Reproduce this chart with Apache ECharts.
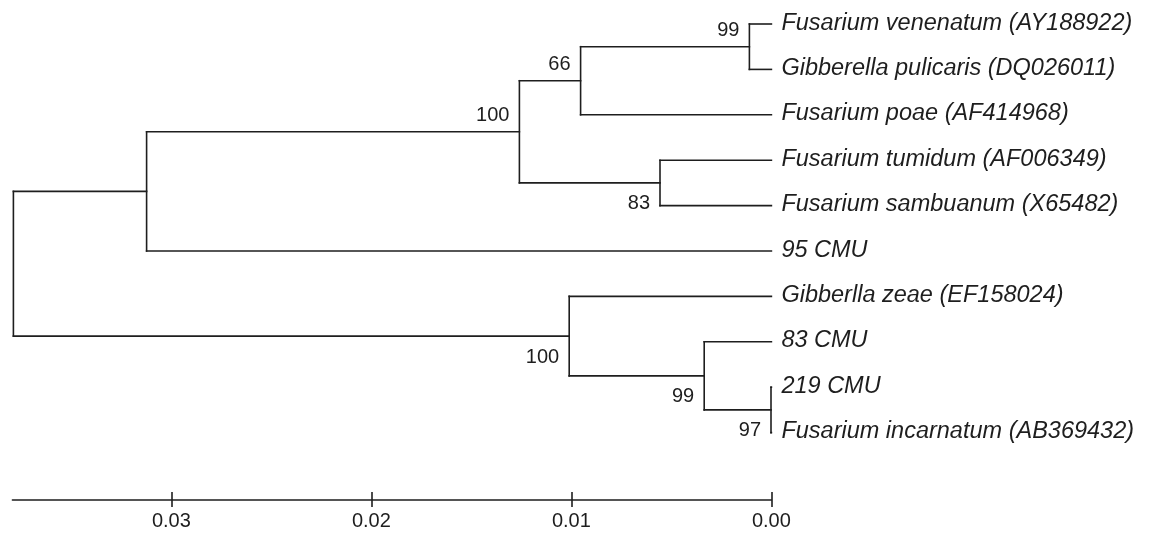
<!DOCTYPE html>
<html><head><meta charset="utf-8">
<script src="https://cdn.jsdelivr.net/npm/echarts@6/dist/echarts.min.js"></script>
<style>html,body{margin:0;padding:0;background:#fff}#c{width:1154px;height:534px}</style>
</head><body><div id="c"></div>
<script>
// Leaves, top to bottom
const leafNames = [
  'Fusarium venenatum (AY188922)',
  'Gibberella pulicaris (DQ026011)',
  'Fusarium poae (AF414968)',
  'Fusarium tumidum (AF006349)',
  'Fusarium sambuanum (X65482)',
  '95 CMU',
  'Gibberlla zeae (EF158024)',
  '83 CMU',
  '219 CMU',
  'Fusarium incarnatum (AB369432)'
];
// Internal nodes (ids 10..18): children ids (0-9 = leaves), node height (distance from tips), bootstrap
const nodeChildren = [[0,1],[10,2],[3,4],[11,12],[13,5],[8,9],[7,15],[6,16],[14,17]];
const nodeHeights  = [0.00110, 0.00954, 0.00557, 0.01260, 0.03124, 0.00002, 0.00336, 0.01011, 0.03790];
const nodeSupport  = ['99','66','83','100','','97','99','100',''];
const supportSide  = ['above','above','below','above','','below','below','below',''];
// Scale bar
const scaleTicks = [0, 0.01, 0.02, 0.03];
const scaleTickLabels = ['0.00', '0.01', '0.02', '0.03'];

const nLeaf = leafNames.length;
const posX = [], posY = [];
for (let i = 0; i < nLeaf; i++) { posX.push(0); posY.push(i); }
const segments = [];
const supportData = [];
nodeChildren.forEach((ch, k) => {
  const id = nLeaf + k;
  const ys = ch.map(c => posY[c]);
  const yMin = Math.min(...ys), yMax = Math.max(...ys);
  const h = nodeHeights[k];
  posX[id] = h; posY[id] = (yMin + yMax) / 2;
  segments.push([h, yMin, h, yMax]);
  ch.forEach(c => segments.push([h, posY[c], posX[c], posY[c]]));
  if (nodeSupport[k]) supportData.push([h, posY[id], nodeSupport[k], supportSide[k]]);
});
const leafData = leafNames.map((n, i) => [0, i, n]);

const INK = '#1e1e1e';
const LW = 1.6;
const chart = echarts.init(document.getElementById('c'));
chart.setOption({
  animation: false,
  backgroundColor: '#fff',
  grid: { left: 12.4, right: 382.6, top: 24, bottom: 34, containLabel: false, outerBoundsMode: 'none' },
  xAxis: [{
    type: 'value', inverse: true, min: 0, max: 0.03795, position: 'bottom',
    splitLine: { show: false },
    axisLine: { show: true, onZero: false, lineStyle: { color: INK, width: LW } },
    axisTick: { show: true, length: 7, lineStyle: { color: INK, width: LW }, customValues: scaleTicks },
    axisLabel: {
      show: true, customValues: scaleTicks, margin: 11,
      color: INK, fontSize: 20, fontFamily: '"Liberation Sans", Arial, sans-serif',
      formatter: v => { const i = scaleTicks.findIndex(t => Math.abs(t - v) < 1e-9); return i >= 0 ? scaleTickLabels[i] : ''; }
    }
  }, {
    type: 'value', inverse: true, min: 0, max: 0.03795, position: 'bottom', offset: 0,
    splitLine: { show: false },
    axisLine: { show: false, onZero: false },
    axisTick: { show: true, inside: true, length: 8, lineStyle: { color: INK, width: LW }, customValues: scaleTicks },
    axisLabel: { show: false }
  }],
  yAxis: { type: 'value', inverse: true, min: 0, max: 10.485, show: false },
  series: [{
    type: 'custom',
    data: segments,
    encode: { x: [0, 2], y: [1, 3] },
    renderItem: (params, api) => {
      const p1 = api.coord([api.value(0), api.value(1)]);
      const p2 = api.coord([api.value(2), api.value(3)]);
      return { type: 'line', shape: { x1: p1[0], y1: p1[1], x2: p2[0], y2: p2[1] },
               style: { stroke: INK, lineWidth: LW, lineCap: 'square' } };
    }
  }, {
    type: 'custom',
    data: leafData,
    encode: { x: 0, y: 1 },
    renderItem: (params, api) => {
      const p = api.coord([api.value(0), api.value(1)]);
      return { type: 'text', x: p[0] + 10, y: p[1] - 1,
               style: { text: leafData[params.dataIndex][2], fill: INK, align: 'left', verticalAlign: 'middle',
                        font: 'italic 23.5px "Liberation Sans", Arial, sans-serif' } };
    }
  }, {
    type: 'custom',
    data: supportData,
    encode: { x: 0, y: 1 },
    renderItem: (params, api) => {
      const d = supportData[params.dataIndex];
      const p = api.coord([d[0], d[1]]);
      return { type: 'text', x: p[0] - 10, y: p[1] + (d[3] === 'above' ? -16 : 21),
               style: { text: d[2], fill: INK, align: 'right', verticalAlign: 'middle',
                        font: '20px "Liberation Sans", Arial, sans-serif' } };
    }
  }]
});
</script></body></html>
